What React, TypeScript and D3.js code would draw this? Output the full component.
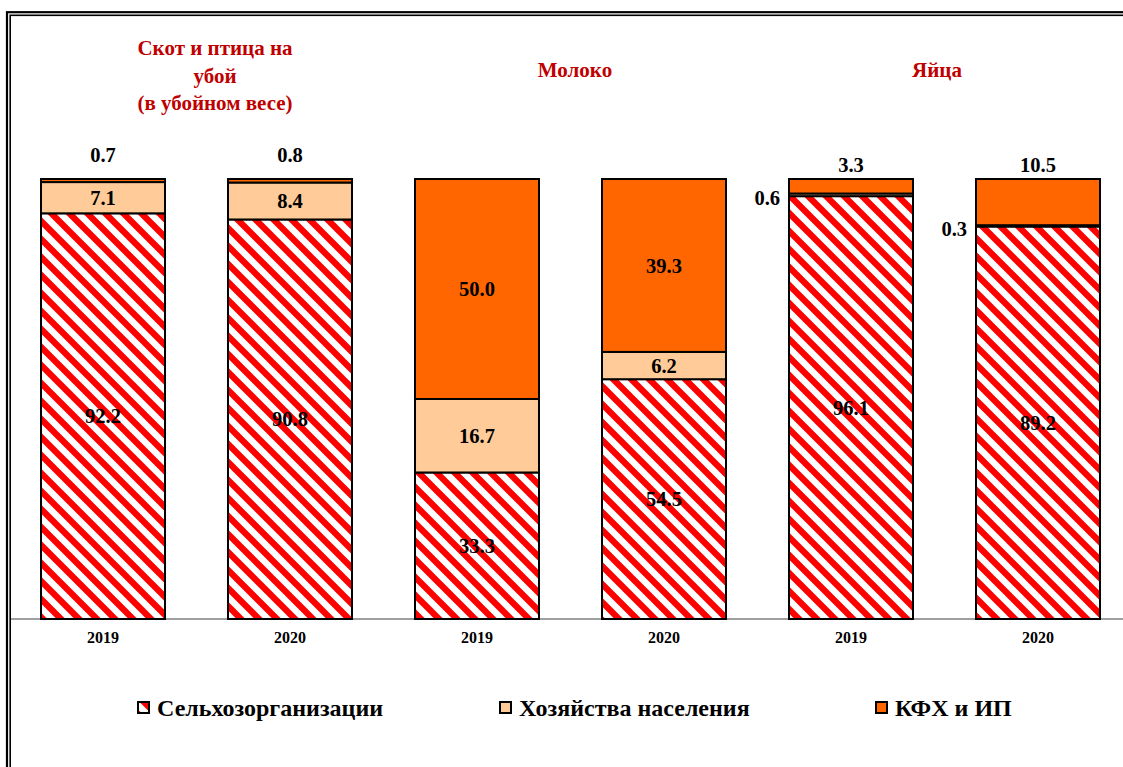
import React from "react";
import * as d3 from "d3";

const categories = ["m2019", "m2020", "k2019", "k2020", "e2019", "e2020"];
const yearLabels = ["2019", "2020", "2019", "2020", "2019", "2020"];
const selkhoz = [92.2, 90.8, 33.3, 54.5, 96.1, 89.2];
const hozyaistva = [7.1, 8.4, 16.7, 6.2, 0.6, 0.3];
const kfh = [0.7, 0.8, 50.0, 39.3, 3.3, 10.5];
const seriesNames = ["Сельхозорганизации", "Хозяйства населения", "КФХ и ИП"];
const groupTitles = [
  ["Скот и птица на", "убой", "(в убойном весе)"],
  ["Молоко"],
  ["Яйца"],
];

const W = 1123;
const H = 767;
const FONT = "'Liberation Serif', 'Times New Roman', serif";
const TITLE_COLOR = "#c00000";
const fills = ["url(#hatch)", "#ffcc99", "#ff6600"];

export default function App() {
  const x = d3
    .scaleBand<string>()
    .domain(categories)
    .range([9.5, 1131.5])
    .paddingInner(0.337)
    .paddingOuter(0.1685);
  const y = d3.scaleLinear().domain([0, 100]).range([619, 179]);

  const rows = categories.map((c, i) => ({
    cat: c,
    s0: selkhoz[i],
    s1: hozyaistva[i],
    s2: kfh[i],
  }));
  const stack = d3.stack<any>().keys(["s0", "s1", "s2"])(rows);
  const bw = x.bandwidth();

  const titleX = [215, 575, 937];
  const titleY0 = [55, 77, 77];

  const labels: React.ReactNode[] = [];
  stack.forEach((layer, si) => {
    layer.forEach((d, i) => {
      const v = (d.data as any)[layer.key];
      const x0 = x(categories[i])!;
      const cx = x0 + bw / 2;
      const yTop = y(d[1]);
      const yBot = y(d[0]);
      let lx = cx;
      let ly = (yTop + yBot) / 2;
      let anchor: "middle" | "end" = "middle";
      if (si === 2 && (v < 5 || i >= 4)) {
        ly = y(100) - (i < 2 ? 24 : 14);
      } else if (si === 1 && v < 2) {
        lx = x0 - 9;
        ly = (yTop + yBot) / 2 + 3;
        anchor = "end";
      }
      labels.push(
        <text
          key={`l${si}-${i}`}
          x={lx}
          y={ly}
          dy="0.35em"
          textAnchor={anchor}
          fontFamily={FONT}
          fontWeight="bold"
          fontSize={20.5}
          fill="#000"
        >
          {v.toFixed(1)}
        </text>
      );
    });
  });

  const legendMarkX = [138, 500, 876];

  return (
    <svg
      width={W}
      height={H}
      style={{ position: "absolute", left: 0, top: 0, background: "#fff" }}
    >
      <defs>
        <pattern
          id="hatch"
          patternUnits="userSpaceOnUse"
          width={18}
          height={18}
        >
          <rect width={18} height={18} fill="#fff" />
          <path
            d="M-9,-9 L27,27 M-9,9 L9,27 M9,-9 L27,9"
            stroke="#ff0000"
            strokeWidth={6.3}
          />
        </pattern>
      </defs>
      <rect x={0} y={0} width={W} height={H} fill="#fff" />
      {/* double frame */}
      <rect x={7} y={12.2} width={2000} height={2000} fill="none" stroke="#000" strokeWidth={2.2} />
      <rect x={10.2} y={15.3} width={2000} height={2000} fill="none" stroke="#000" strokeWidth={1.6} />

      {/* axis line */}
      <line x1={11} x2={W} y1={619} y2={619} stroke="#404040" strokeWidth={1} />

      {stack.map((layer, si) => (
        <g key={layer.key}>
          {layer.map((d, i) => (
            <rect
              key={i}
              x={x(categories[i])}
              y={y(d[1])}
              width={bw}
              height={y(d[0]) - y(d[1])}
              fill={fills[si]}
              stroke="#000"
              strokeWidth={2}
            />
          ))}
        </g>
      ))}

      {labels}

      {categories.map((c, i) => (
        <text
          key={c}
          x={x(c)! + bw / 2}
          y={637}
          dy="0.35em"
          textAnchor="middle"
          fontFamily={FONT}
          fontWeight="bold"
          fontSize={16}
        >
          {yearLabels[i]}
        </text>
      ))}

      {groupTitles.map((lines, gi) => (
        <text
          key={gi}
          textAnchor="middle"
          fontFamily={FONT}
          fontWeight="bold"
          fontSize={21}
          fill={TITLE_COLOR}
        >
          {lines.map((ln, li) => (
            <tspan key={li} x={titleX[gi]} y={titleY0[gi] + li * 27.5}>
              {ln}
            </tspan>
          ))}
        </text>
      ))}

      {seriesNames.map((n, i) => (
        <g key={n}>
          <rect
            x={legendMarkX[i]}
            y={702}
            width={11}
            height={11}
            fill={fills[i]}
            stroke="#000"
            strokeWidth={2}
          />
          <text
            x={legendMarkX[i] + 19}
            y={716}
            fontFamily={FONT}
            fontWeight="bold"
            fontSize={24}
          >
            {n}
          </text>
        </g>
      ))}
    </svg>
  );
}
